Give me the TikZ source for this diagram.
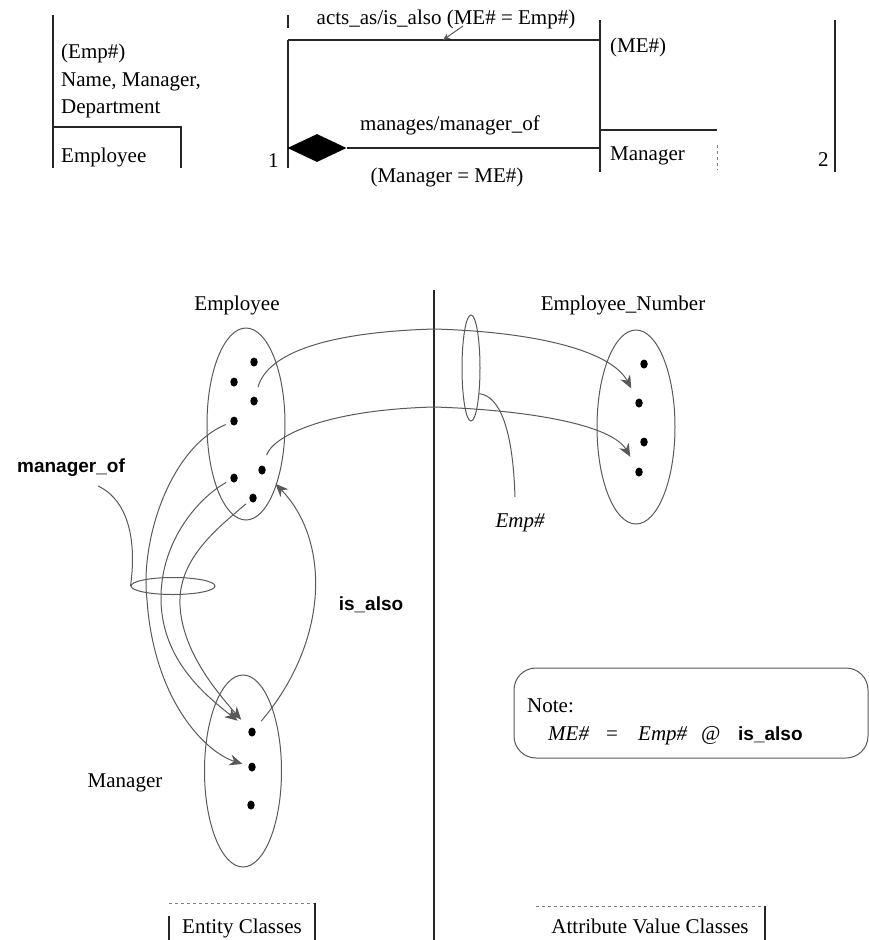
\documentclass[tikz,border=0pt]{standalone}
\usepackage{fontspec}
\setmainfont{Liberation Serif}
\newfontfamily\rolesans{Liberation Sans}
\usetikzlibrary{arrows.meta,shapes.geometric}

\begin{document}
\begin{tikzpicture}[
  x=1pt, y=-1pt,
  font=\fontsize{21}{26}\selectfont,
  ln/.style={line width=1.2pt, black!85},
  faint/.style={line width=1pt, black!50, dashed},
  cv/.style={line width=1pt, black!65},
  map/.style={cv, -{Stealth[length=13pt, width=11pt]}},
  txt/.style={inner sep=0pt, anchor=base west},
  lbl/.style={inner sep=0pt, anchor=base},
  rolelbl/.style={lbl, font=\fontsize{19}{23}\selectfont\rolesans\bfseries},
  cls/.style={ellipse, draw, line width=1pt, black!65, inner sep=0pt},
  elem/.style={ellipse, fill=black, inner sep=0pt, minimum width=7.5pt,
               minimum height=9pt}]

\useasboundingbox (0,0) rectangle (869,940);

% ------------------------------------------------ schema at the top ---
\draw[ln] (53,15) -- (53,168);
\draw[ln] (53,127) -- (181,127) -- (181,168);
\node[txt] (empkey)  at (61,58)  {(Emp\#)};
\node[txt] (empatt)  at (61,86)  {Name, Manager,};
\node[txt] (empdep)  at (61,113) {Department};
\node[txt] (empname) at (61,162) {Employee};

\node[txt] (one) at (268,167) {1};
\draw[ln] (288,15) -- (288,28);
\draw[ln] (288,40) -- (288,168);
\draw[ln] (600,20) -- (600,172);
\node[txt] (mekey)   at (610,52)  {(ME\#)};
\draw[ln] (600,130) -- (717,130);
\draw[faint] (717,145) -- (717,170);
\node[txt] (mgrname) at (610,160) {Manager};
\node[txt] (two) at (818,166) {2};
\draw[ln] (835,20) -- (835,172);

\coordinate (asleft)  at (288,40);
\coordinate (asright) at (600,40);
\draw[ln] (asleft) -- (asright);
\node[lbl] (acts) at (446,24) {acts\_as/is\_also (ME\# = Emp\#)};
\coordinate (metop)  at (463,26);
\coordinate (mefoot) at (443,40);
\draw[cv, -{Stealth[length=7pt, width=6pt]}] (metop) -- (mefoot);

\node[diamond, fill=black, inner sep=0pt, minimum width=59pt,
      minimum height=28pt] (rel) at (317,148) {};
\coordinate (relend) at (600,148);
\draw[ln] (rel.east) -- (relend);
\node[lbl] (mgs)  at (450,130) {manages/manager\_of};
\node[lbl] (mgeq) at (447,182) {(Manager = ME\#)};

% ------------------------------------------------ value classes ---
\draw[ln] (434,290) -- (434,940);
\node[lbl] (entlbl) at (237,310) {Employee};
\node[lbl] (numlbl) at (623,310) {Employee\_Number};
\node[lbl] (mgrlbl) at (125,787) {Manager};

\node[cls, minimum width=78pt, minimum height=192pt] (emp)  at (246,424) {};
\node[cls, minimum width=78pt, minimum height=194pt] (num)  at (636,427) {};
\node[cls, minimum width=77pt, minimum height=192pt] (mgr)  at (243,771) {};
\node[cls, minimum width=18pt, minimum height=106pt] (key)  at (471,368) {};
\node[cls, minimum width=84pt, minimum height=17pt]  (ring) at (173,586) {};

\foreach \nm/\px/\py in {e1/254/362, e2/234/382, e3/254/401, e4/234/421,
                          e5/234/478, e6/262/470, e7/253/498,
                          n1/644/364, n2/639/403, n3/644/442, n4/639/472,
                          m1/252/732, m2/252/767, m3/251/805}
  \node[elem] (\nm) at (\px,\py) {};

% Emp# maps employees to numbers
\draw[map, shorten <=10pt, shorten >=12pt] (e3)
  .. controls (268,352) and (330,332) .. (434,329)
  .. controls (540,332) and (612,352) .. (n2);
\draw[map, shorten <=11pt, shorten >=13pt] (e6)
  .. controls (272,438) and (320,410) .. (434,407)
  .. controls (530,410) and (612,425) .. (n4);
\node[lbl, font=\fontsize{21}{26}\selectfont\itshape] (emplbl) at (520,527) {Emp\#};
\coordinate (empfoot) at (515,497);
\draw[cv] (empfoot) .. controls (513,430) and (500,396) .. (key.-72);

% manager_of, three employees onto managers
\node[rolelbl] (moflbl) at (71,472) {manager\_of};
\coordinate (moffoot) at (98,486);
\draw[cv] (moffoot) .. controls (128,500) and (137,540) .. (ring.west);
\draw[map, shorten <=5pt, shorten >=6pt] (e4)
  .. controls (170,448) and (140,540) .. (147,600)
  .. controls (154,700) and (205,752) .. (m2);
\draw[map, shorten <=5pt, shorten >=14pt] (e5)
  .. controls (195,500) and (160,545) .. (161,600)
  .. controls (162,660) and (205,695) .. (m1);
\draw[map, shorten <=5pt, shorten >=12pt] (e7)
  .. controls (215,530) and (178,560) .. (180,605)
  .. controls (182,650) and (215,690) .. (m1);

% is_also, back from manager to employee
\node[rolelbl] (isalbl) at (371,610) {is\_also};
\draw[map, shorten <=10pt, shorten >=15pt] (m1)
  .. controls (330,640) and (330,540) .. (e6);

% ------------------------------------------------ note ---
\node[draw, cv, rounded corners=22pt, minimum width=354pt,
      minimum height=90pt] (note) at (691,713) {};
\node[txt] (notehd) at (527,712) {Note:};
\node[txt, font=\fontsize{21}{26}\selectfont\itshape] (noteme) at (548,740) {ME\#};
\node[txt] (noteeq) at (606,740) {=};
\node[txt, font=\fontsize{21}{26}\selectfont\itshape] (noteemp) at (638,740) {Emp\#};
\node[txt] (noteat) at (701,740) {@};
\node[rolelbl, anchor=base west] (noteis) at (738,740) {is\_also};

% ------------------------------------------------ captions ---
\draw[ln] (169,916) -- (169,940);
\draw[faint] (169,903) -- (315,903);
\draw[ln] (315,903) -- (315,940);
\node[lbl] (entcap) at (242,933) {Entity Classes};
\draw[faint] (536,906) -- (765,906);
\draw[ln] (765,906) -- (765,940);
\node[lbl] (attcap) at (650,933) {Attribute Value Classes};

\end{tikzpicture}
\end{document}
